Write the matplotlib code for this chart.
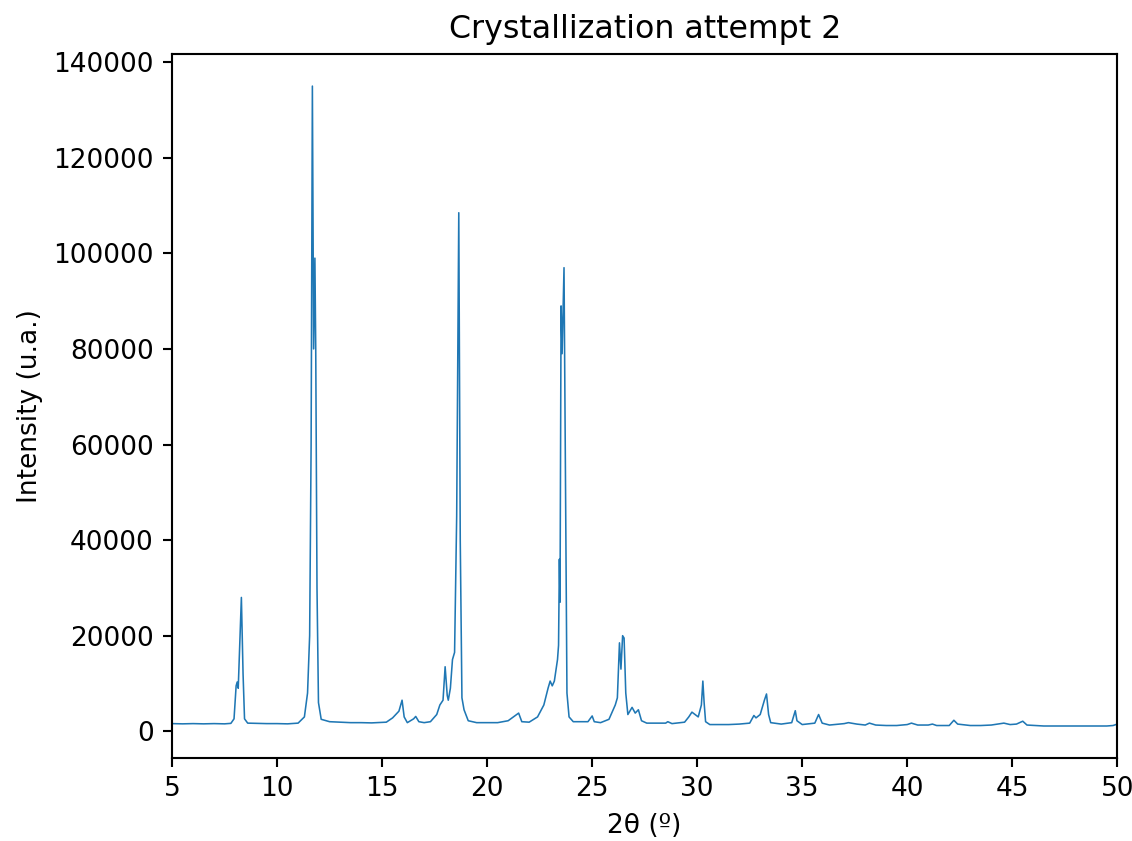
import matplotlib
matplotlib.use("Agg")
import matplotlib.pyplot as plt

# 2theta / intensity vertices
two_theta = [5.0, 5.5, 6.0, 6.5, 7.0, 7.5, 7.8, 7.95, 8.05, 8.1, 8.15, 8.22, 8.30, 8.38, 8.45, 8.6,
             9.0, 9.5, 10.0, 10.5, 11.0, 11.3, 11.45, 11.55, 11.62, 11.68, 11.74, 11.80, 11.84, 11.9,
             11.97, 12.1, 12.5, 13.0, 13.5, 14.0, 14.5, 15.2, 15.5, 15.8, 15.95, 16.05, 16.2, 16.5,
             16.6, 16.75, 17.0, 17.3, 17.6, 17.75, 17.9, 18.0, 18.1, 18.15, 18.25, 18.35, 18.45,
             18.55, 18.65, 18.72, 18.8, 18.9, 19.1, 19.5, 20.0, 20.5, 21.0, 21.4, 21.5, 21.65, 22.0,
             22.4, 22.7, 22.9, 23.0, 23.1, 23.2, 23.35, 23.4, 23.44, 23.47, 23.52, 23.57, 23.66,
             23.72, 23.8, 23.9, 24.1, 24.8, 25.0, 25.1, 25.4, 25.8, 26.0, 26.1, 26.2, 26.3, 26.37,
             26.45, 26.52, 26.6, 26.7, 26.9, 27.05, 27.2, 27.35, 27.6, 28.0, 28.5, 28.6, 28.8, 29.4,
             29.6, 29.75, 29.9, 30.05, 30.2, 30.27, 30.33, 30.4, 30.6, 31.0, 31.5, 32.0, 32.5, 32.7,
             32.8, 33.0, 33.2, 33.3, 33.4, 33.5, 34.0, 34.5, 34.67, 34.75, 35.0, 35.6, 35.78, 35.95,
             36.3, 37.0, 37.2, 37.6, 38.0, 38.2, 38.5, 39.0, 39.5, 40.0, 40.2, 40.5, 41.0, 41.2,
             41.4, 42.0, 42.22, 42.4, 43.0, 43.5, 44.0, 44.6, 44.9, 45.2, 45.5, 45.7, 46.5, 47.0,
             48.0, 49.0, 49.5, 49.8, 50.0]
intensity = [1600, 1550, 1600, 1550, 1600, 1550, 1650, 2600, 9500, 10300, 9000, 18000, 28000, 12000,
             2600, 1700, 1650, 1600, 1600, 1550, 1700, 3000, 8000, 20000, 60000, 135000, 80000, 99000,
             80000, 30000, 6000, 2500, 2000, 1900, 1800, 1800, 1750, 1900, 2800, 4200, 6500, 3000,
             1800, 2600, 3100, 2000, 1800, 2000, 3500, 5500, 6500, 13500, 7500, 6500, 9000, 15000,
             16500, 45000, 108500, 40000, 7000, 4500, 2200, 1800, 1800, 1800, 2200, 3500, 3800, 2000,
             1900, 3000, 5500, 9000, 10500, 9500, 10500, 15000, 18000, 36000, 27000, 89000, 79000,
             97000, 60000, 8000, 3000, 2000, 2000, 3200, 2000, 1800, 2500, 4500, 5500, 7000, 18500,
             13000, 20000, 19500, 8000, 3500, 5000, 3800, 4500, 2200, 1700, 1700, 1700, 2000, 1600,
             1900, 3000, 4000, 3500, 3000, 5500, 10500, 6000, 2000, 1400, 1400, 1400, 1500, 1700,
             3300, 2800, 3500, 6500, 7800, 3500, 1800, 1500, 1800, 4300, 2200, 1400, 1700, 3500,
             1700, 1300, 1600, 1800, 1500, 1300, 1700, 1300, 1200, 1200, 1400, 1700, 1300, 1300,
             1500, 1200, 1200, 2300, 1500, 1200, 1200, 1300, 1700, 1400, 1500, 2100, 1300, 1100,
             1100, 1100, 1100, 1100, 1200, 1500]

dpi = 190
fig = plt.figure(figsize=(1132 / dpi, 841 / dpi), dpi=dpi)
ax = fig.add_axes([0.152, 0.0987, 0.835, 0.837])

ax.plot(two_theta, intensity, color="#1f77b4", linewidth=0.6)
ax.set_xlim(5, 50)
ax.set_title("Crystallization attempt 2")
ax.set_xlabel("2θ (º)")
ax.set_ylabel("Intensity (u.a.)")

fig.savefig("out.png", dpi=dpi)
